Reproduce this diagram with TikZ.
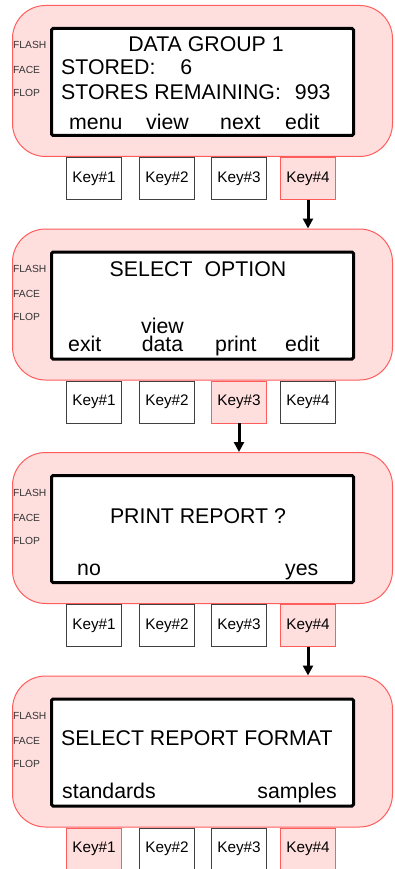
\documentclass[tikz,border=0pt]{standalone}
\usepackage{fontspec}
\setmainfont{Liberation Sans}
\usepackage{tikz}
\usetikzlibrary{arrows.meta, positioning, calc}
\definecolor{panelfill}{HTML}{FFDEDE}
\definecolor{panelline}{HTML}{FF5C5C}

\begin{document}
\begin{tikzpicture}[
    x=1pt, y=-1pt,
    node distance=71.5pt,
    panel/.style={rectangle, draw=panelline, fill=panelfill, line width=1pt, minimum width=380pt, minimum height=151pt, rounded corners=33pt},
    screen/.style={rectangle, draw=black, fill=white, line width=3pt, minimum width=302pt, minimum height=107pt, rounded corners=1.5pt},
    key/.style={rectangle, draw=black!75, fill=white, line width=0.8pt, minimum width=55pt, minimum height=42pt, anchor=north, font=\fontsize{15.3}{15}\selectfont},
    hotkey/.style={key, draw=panelline, fill=panelfill},
    lcd/.style={inner sep=0pt, font=\fontsize{21.3}{18}\selectfont},
    side/.style={inner sep=0pt, anchor=base west, text=black!80, font=\fontsize{10.3}{10}\selectfont},
    flow/.style={-{Triangle[width=10pt,length=10pt]}, line width=3pt}
]
    \useasboundingbox (0,0) rectangle (394,869);

    % panels and screens
    \node (p1) [panel] at (202.5,81) {};
    \node (p2) [panel, below=of p1] {};
    \node (p3) [panel, below=of p2] {};
    \node (p4) [panel, below=of p3] {};
    \node (s1) [screen] at ([yshift=-1pt]p1.center) {};
    \node (s2) [screen] at ([yshift=-1pt]p2.center) {};
    \node (s3) [screen] at ([yshift=-1pt]p3.center) {};
    \node (s4) [screen] at ([yshift=-1pt]p4.center) {};

    % side labels
    \node (fl1) [side] at ([shift={(1pt,-44pt)}]p1.north west) {FLASH};
    \node (fc1) [side] at ([shift={(1pt,-69pt)}]p1.north west) {FACE};
    \node (fp1) [side] at ([shift={(1pt,-92pt)}]p1.north west) {FLOP};
    \node (fl2) [side] at ([shift={(1pt,-44pt)}]p2.north west) {FLASH};
    \node (fc2) [side] at ([shift={(1pt,-69pt)}]p2.north west) {FACE};
    \node (fp2) [side] at ([shift={(1pt,-92pt)}]p2.north west) {FLOP};
    \node (fl3) [side] at ([shift={(1pt,-44pt)}]p3.north west) {FLASH};
    \node (fc3) [side] at ([shift={(1pt,-69pt)}]p3.north west) {FACE};
    \node (fp3) [side] at ([shift={(1pt,-92pt)}]p3.north west) {FLOP};
    \node (fl4) [side] at ([shift={(1pt,-44pt)}]p4.north west) {FLASH};
    \node (fc4) [side] at ([shift={(1pt,-69pt)}]p4.north west) {FACE};
    \node (fp4) [side] at ([shift={(1pt,-92pt)}]p4.north west) {FLOP};

    % screen texts
    \node (t1a) [lcd, anchor=base] at ([shift={(3.5pt,-25pt)}]s1.north) {DATA GROUP 1};
    \node (t1b) [lcd, anchor=base west] at ([shift={(11pt,-48pt)}]s1.north west) {STORED:\hspace{25pt}6};
    \node (t1c) [lcd, anchor=base west] at ([shift={(11pt,-73pt)}]s1.north west) {STORES REMAINING:\hspace{14pt}993};
    \node (t1d) [lcd, anchor=base west] at ([shift={(19pt,-103pt)}]s1.north west) {menu};
    \node (t1e) [lcd, anchor=base west] at ([shift={(96pt,-103pt)}]s1.north west) {view};
    \node (t1f) [lcd, anchor=base west] at ([shift={(170pt,-103pt)}]s1.north west) {next};
    \node (t1g) [lcd, anchor=base west] at ([shift={(235pt,-103pt)}]s1.north west) {edit};

    \node (t2a) [lcd, anchor=base] at ([shift={(-4.5pt,-26pt)}]s2.north) {SELECT\hspace{12pt}OPTION};
    \node (t2b) [lcd, anchor=base west] at ([shift={(18pt,-101pt)}]s2.north west) {exit};
    \node (t2c) [lcd, anchor=south, align=center] at ([shift={(112.5pt,-101pt)}]s2.north west) {view\\data};
    \node (t2e) [lcd, anchor=base west] at ([shift={(165pt,-101pt)}]s2.north west) {print};
    \node (t2f) [lcd, anchor=base west] at ([shift={(235pt,-101pt)}]s2.north west) {edit};

    \node (t3a) [lcd, anchor=base] at ([shift={(-4.5pt,-49pt)}]s3.north) {PRINT REPORT ?};
    \node (t3b) [lcd, anchor=base west] at ([shift={(27pt,-101pt)}]s3.north west) {no};
    \node (t3c) [lcd, anchor=base west] at ([shift={(235pt,-101pt)}]s3.north west) {yes};

    \node (t4a) [lcd, anchor=base west] at ([shift={(11pt,-48pt)}]s4.north west) {SELECT REPORT FORMAT};
    \node (t4b) [lcd, anchor=base west] at ([shift={(12pt,-101pt)}]s4.north west) {standards};
    \node (t4c) [lcd, anchor=base east] at ([shift={(287pt,-101pt)}]s4.north west) {samples};

    % keys
    \node (k1a) [key] at ([xshift=-108.5pt]p1.south) {Key\#1};
    \node (k1b) [key] at ([xshift=-35.5pt]p1.south) {Key\#2};
    \node (k1c) [key] at ([xshift=36.5pt]p1.south) {Key\#3};
    \node (k1d) [hotkey] at ([xshift=105.5pt]p1.south) {Key\#4};
    \node (k2a) [key] at ([xshift=-108.5pt]p2.south) {Key\#1};
    \node (k2b) [key] at ([xshift=-35.5pt]p2.south) {Key\#2};
    \node (k2c) [hotkey] at ([xshift=36.5pt]p2.south) {Key\#3};
    \node (k2d) [key] at ([xshift=105.5pt]p2.south) {Key\#4};
    \node (k3a) [key] at ([xshift=-108.5pt]p3.south) {Key\#1};
    \node (k3b) [key] at ([xshift=-35.5pt]p3.south) {Key\#2};
    \node (k3c) [key] at ([xshift=36.5pt]p3.south) {Key\#3};
    \node (k3d) [hotkey] at ([xshift=105.5pt]p3.south) {Key\#4};
    \node (k4a) [hotkey] at ([xshift=-108.5pt]p4.south) {Key\#1};
    \node (k4b) [key] at ([xshift=-35.5pt]p4.south) {Key\#2};
    \node (k4c) [key] at ([xshift=36.5pt]p4.south) {Key\#3};
    \node (k4d) [hotkey] at ([xshift=105.5pt]p4.south) {Key\#4};

    \draw[flow] (k1d.south) -- (k1d.south |- p2.north);
    \draw[flow] (k2c.south) -- (k2c.south |- p3.north);
    \draw[flow] (k3d.south) -- (k3d.south |- p4.north);
\end{tikzpicture}
\end{document}
